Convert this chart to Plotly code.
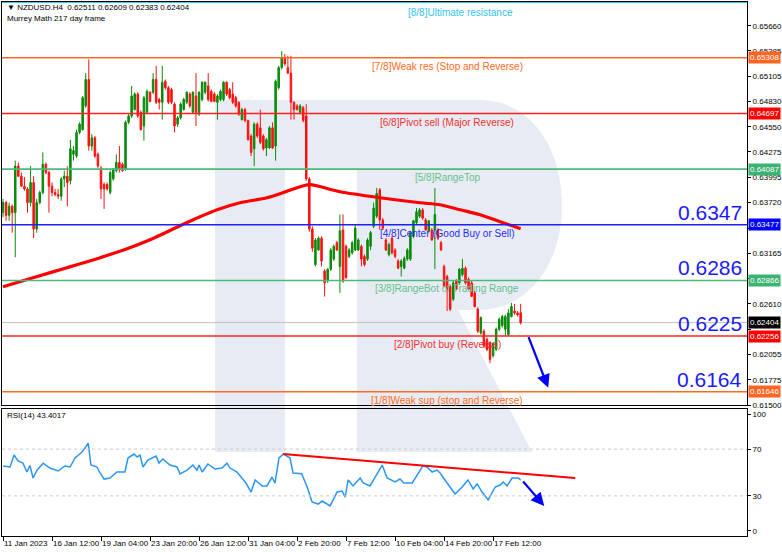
import plotly.graph_objects as go

# ---------------- data ----------------
tick_bars = [0, 16, 32, 48, 64, 80, 96, 112, 128, 144, 160]
tick_labels = ["11 Jan 2023", "16 Jan 12:00", "19 Jan 04:00", "23 Jan 20:00", "26 Jan 12:00",
               "31 Jan 04:00", "2 Feb 20:00", "7 Feb 12:00", "10 Feb 04:00", "14 Feb 20:00", "17 Feb 12:00"]

opens = [0.6361, 0.6372, 0.6358, 0.6368, 0.6361, 0.6412, 0.6401, 0.6390, 0.6387, 0.6372,
         0.6394, 0.6343, 0.6372, 0.6383, 0.6414, 0.6405, 0.6390, 0.6383, 0.6381, 0.6379,
         0.6398, 0.6401, 0.6396, 0.6425, 0.6423, 0.6449, 0.6452, 0.6478, 0.6507, 0.6434,
         0.6443, 0.6425, 0.6410, 0.6392, 0.6392, 0.6383, 0.6398, 0.6407, 0.6416, 0.6414,
         0.6409, 0.6460, 0.6467, 0.6474, 0.6491, 0.6471, 0.6456, 0.6471, 0.6493, 0.6493,
         0.6507, 0.6485, 0.6482, 0.6505, 0.6498, 0.6496, 0.6480, 0.6458, 0.6465, 0.6474,
         0.6482, 0.6491, 0.6471, 0.6489, 0.6469, 0.6485, 0.6493, 0.6500, 0.6494, 0.6491,
         0.6482, 0.6485, 0.6485, 0.6504, 0.6496, 0.6491, 0.6487, 0.6482, 0.6463, 0.6474,
         0.6462, 0.6445, 0.6431, 0.6458, 0.6454, 0.6445, 0.6432, 0.6432, 0.6454, 0.6434,
         0.6498, 0.6520, 0.6531, 0.6520, 0.6514, 0.6482, 0.6478, 0.6471, 0.6476, 0.6467,
         0.6398, 0.6343, 0.6304, 0.6320, 0.6333, 0.6297, 0.6286, 0.6299, 0.6310, 0.6328,
         0.6302, 0.6342, 0.6324, 0.6313, 0.6317, 0.6320, 0.6320, 0.6324, 0.6313, 0.6310,
         0.6324, 0.6346, 0.6357, 0.6386, 0.6353, 0.6331, 0.6315, 0.6333, 0.6320, 0.6308,
         0.6302, 0.6300, 0.6310, 0.6310, 0.6335, 0.6350, 0.6357, 0.6364, 0.6353, 0.6341,
         0.6342, 0.6342, 0.6342, 0.6328, 0.6302, 0.6291, 0.6280, 0.6266, 0.6286, 0.6284,
         0.6293, 0.6300, 0.6288, 0.6284, 0.6273, 0.6255, 0.6229, 0.6231, 0.6222, 0.6218,
         0.6204, 0.6211, 0.6233, 0.6237, 0.6233, 0.6227, 0.6247, 0.6253, 0.6251, 0.62511]
highs = [0.6376, 0.6374, 0.6372, 0.6370, 0.6418, 0.6416, 0.6405, 0.6400, 0.6389, 0.6412,
         0.6401, 0.6376, 0.6385, 0.6427, 0.6416, 0.6407, 0.6394, 0.6387, 0.6387, 0.6400,
         0.6407, 0.6412, 0.6441, 0.6434, 0.6452, 0.6460, 0.6489, 0.6514, 0.6529, 0.6447,
         0.6445, 0.6427, 0.6412, 0.6394, 0.6394, 0.6407, 0.6410, 0.6425, 0.6434, 0.6416,
         0.6462, 0.6469, 0.6500, 0.6493, 0.6493, 0.6473, 0.6489, 0.6496, 0.6494, 0.6514,
         0.6522, 0.6487, 0.6522, 0.6507, 0.6500, 0.6498, 0.6482, 0.6467, 0.6482, 0.6487,
         0.6494, 0.6493, 0.6494, 0.6514, 0.6494, 0.6505, 0.6505, 0.6514, 0.6496, 0.6493,
         0.6491, 0.6496, 0.6505, 0.6505, 0.6498, 0.6504, 0.6489, 0.6483, 0.6476, 0.6476,
         0.6463, 0.6447, 0.6460, 0.6460, 0.6474, 0.6447, 0.6443, 0.6456, 0.6460, 0.6507,
         0.6522, 0.6538, 0.6535, 0.6533, 0.6533, 0.6483, 0.6480, 0.6480, 0.6478, 0.6480,
         0.6400, 0.6346, 0.6333, 0.6335, 0.6335, 0.6299, 0.6300, 0.6322, 0.6326, 0.6330,
         0.6359, 0.6359, 0.6326, 0.6322, 0.6330, 0.6348, 0.6333, 0.6326, 0.6315, 0.6333,
         0.6341, 0.6372, 0.6388, 0.6388, 0.6355, 0.6333, 0.6328, 0.6335, 0.6322, 0.6310,
         0.6310, 0.6313, 0.6322, 0.6341, 0.6353, 0.6366, 0.6366, 0.6366, 0.6355, 0.6353,
         0.6344, 0.6388, 0.6344, 0.6330, 0.6304, 0.6293, 0.6282, 0.6286, 0.6288, 0.6300,
         0.6310, 0.6302, 0.6290, 0.6286, 0.6275, 0.6257, 0.6247, 0.6233, 0.6224, 0.6220,
         0.6218, 0.6235, 0.6246, 0.6249, 0.6249, 0.6255, 0.6262, 0.6261, 0.6253, 0.62609]
lows = [0.6356, 0.6352, 0.6352, 0.6339, 0.6312, 0.6400, 0.6389, 0.6385, 0.6361, 0.6368,
        0.6333, 0.6339, 0.6370, 0.6381, 0.6403, 0.6361, 0.6379, 0.6379, 0.6376, 0.6374,
        0.6389, 0.6368, 0.6392, 0.6418, 0.6421, 0.6447, 0.6451, 0.6476, 0.6429, 0.6429,
        0.6421, 0.6410, 0.6376, 0.6365, 0.6385, 0.6381, 0.6396, 0.6405, 0.6405, 0.6406,
        0.6407, 0.6458, 0.6465, 0.6473, 0.6465, 0.6451, 0.6440, 0.6469, 0.6482, 0.6491,
        0.6480, 0.6474, 0.6463, 0.6496, 0.6480, 0.6480, 0.6449, 0.6455, 0.6463, 0.6473,
        0.6480, 0.6476, 0.6469, 0.6456, 0.6467, 0.6483, 0.6491, 0.6483, 0.6482, 0.6482,
        0.6463, 0.6483, 0.6483, 0.6489, 0.6485, 0.6480, 0.6476, 0.6467, 0.6462, 0.6460,
        0.6440, 0.6423, 0.6412, 0.6443, 0.6436, 0.6429, 0.6423, 0.6431, 0.6431, 0.6418,
        0.6496, 0.6518, 0.6522, 0.6513, 0.6463, 0.6463, 0.6473, 0.6469, 0.6460, 0.6396,
        0.6340, 0.6318, 0.6302, 0.6319, 0.6302, 0.6269, 0.6284, 0.6297, 0.6308, 0.6319,
        0.6273, 0.6284, 0.6288, 0.6311, 0.6315, 0.6319, 0.6319, 0.6302, 0.6302, 0.6308,
        0.6320, 0.6344, 0.6355, 0.6342, 0.6342, 0.6319, 0.6313, 0.6315, 0.6311, 0.6299,
        0.6291, 0.6299, 0.6308, 0.6308, 0.6333, 0.6348, 0.6355, 0.6353, 0.6341, 0.6339,
        0.6330, 0.6299, 0.6331, 0.6319, 0.6279, 0.6253, 0.6253, 0.6264, 0.6277, 0.6282,
        0.6291, 0.6282, 0.6277, 0.6269, 0.6257, 0.6229, 0.6227, 0.6213, 0.6209, 0.6196,
        0.6202, 0.6209, 0.6231, 0.6235, 0.6226, 0.6226, 0.6246, 0.6249, 0.6247, 0.62383]
closes = [0.6372, 0.6358, 0.6368, 0.6361, 0.6412, 0.6401, 0.6390, 0.6387, 0.6372, 0.6394,
          0.6343, 0.6372, 0.6383, 0.6414, 0.6405, 0.6390, 0.6383, 0.6381, 0.6379, 0.6398,
          0.6401, 0.6394, 0.6431, 0.6429, 0.6449, 0.6458, 0.6487, 0.6507, 0.6434, 0.6443,
          0.6423, 0.6412, 0.6387, 0.6387, 0.6387, 0.6405, 0.6409, 0.6416, 0.6409, 0.6407,
          0.6460, 0.6467, 0.6489, 0.6491, 0.6467, 0.6452, 0.6487, 0.6494, 0.6483, 0.6507,
          0.6482, 0.6482, 0.6504, 0.6498, 0.6482, 0.6482, 0.6456, 0.6465, 0.6480, 0.6485,
          0.6493, 0.6478, 0.6493, 0.6471, 0.6493, 0.6504, 0.6504, 0.6485, 0.6483, 0.6483,
          0.6489, 0.6494, 0.6504, 0.6491, 0.6487, 0.6482, 0.6478, 0.6469, 0.6474, 0.6462,
          0.6441, 0.6427, 0.6458, 0.6445, 0.6438, 0.6431, 0.6441, 0.6454, 0.6432, 0.6505,
          0.6520, 0.6531, 0.6524, 0.6514, 0.6482, 0.6474, 0.6474, 0.6478, 0.6462, 0.6398,
          0.6343, 0.6322, 0.6331, 0.6333, 0.6308, 0.6284, 0.6299, 0.6320, 0.6324, 0.6320,
          0.6341, 0.6286, 0.6290, 0.6320, 0.6328, 0.6344, 0.6331, 0.6310, 0.6304, 0.6331,
          0.6339, 0.6366, 0.6382, 0.6353, 0.6344, 0.6320, 0.6326, 0.6317, 0.6313, 0.6300,
          0.6308, 0.6311, 0.6320, 0.6339, 0.6352, 0.6362, 0.6364, 0.6355, 0.6342, 0.6352,
          0.6331, 0.6359, 0.6333, 0.6320, 0.6280, 0.6277, 0.6255, 0.6284, 0.6277, 0.6299,
          0.6300, 0.6284, 0.6277, 0.6269, 0.6258, 0.6231, 0.6246, 0.6215, 0.6211, 0.6200,
          0.6218, 0.6233, 0.6244, 0.6247, 0.6247, 0.6251, 0.6258, 0.6251, 0.6249, 0.62404]

ma_bar = [0, 9.8, 20.9, 31.7, 40.5, 48, 57.8, 64.3, 69.9, 77.4, 86.2, 91.4, 97, 100.2,
          110, 123.1, 136.2, 142.7, 149.2, 155.8, 162.3, 169]
ma_val = [0.62797, 0.62896, 0.63006, 0.63116, 0.63214, 0.63313, 0.63466, 0.63565, 0.63642,
          0.63718, 0.63773, 0.63828, 0.63894, 0.63916, 0.63839, 0.63773, 0.63718, 0.63696,
          0.63642, 0.63587, 0.63510, 0.63433]

rsi_bar = [0, 2.3, 3.6, 4.9, 6.5, 7.8, 8.8, 9.8, 11.1, 13.1, 15.3, 18, 20.2, 21.9, 23.5, 25.8,
           26.8, 27.8, 28.7, 30.7, 31.7, 33, 34.9, 37.2, 39.8, 40.8, 42.8, 43.8, 44.7, 45.7,
           47.3, 50, 50.9, 52.2, 54.5, 56.8, 57.8, 60.1, 62, 63.3, 64, 65, 66.9, 69.2, 71.5,
           73.1, 74.1, 76.4, 78, 79.3, 81, 82.3, 84.6, 86.2, 87.8, 88.8, 90.1, 91.6, 93.7,
           94.7, 97.5, 99.3, 100.9, 102.9, 104.2, 106.8, 109.1, 110.7, 111.7, 112.7, 114.3,
           116.6, 117.6, 119.8, 121.5, 123.8, 125.4, 128, 129.6, 130.9, 133.6, 135.2, 137.1,
           138.4, 140.1, 141.7, 142.7, 145, 147.6, 149.9, 151.8, 153.5, 154.8, 156.4, 158.4,
           160.7, 162.3, 163.3, 164.6, 166.2, 168.3, 169]
rsi_val = [55.6, 54.7, 65, 60, 58, 50.4, 56, 45.3, 52, 58, 53.8, 51.3, 55.6, 54.7, 62.4, 67.5,
           71, 75.2, 56.4, 54.7, 49.6, 44.4, 45.3, 50.4, 50.4, 62.4, 65.8, 63.2, 65, 54.7,
           60.7, 64.1, 58, 61.5, 56.4, 54.7, 48.7, 52, 56.4, 52, 56.4, 50.4, 57.3, 53, 53.8,
           58, 53.8, 50.4, 45.3, 41, 33.3, 43.6, 38.5, 38.5, 46, 41, 62.4, 65.8, 62.4,
           49.6, 49, 37.6, 24.8, 23, 25.6, 21.4, 33.3, 34.2, 29, 43.6, 38.5,
           45.3, 41, 38.5, 46, 56.4, 45.3, 41.9, 44.4, 41, 41, 47.9, 55.6,
           54.7, 50.4, 52, 49.6, 41, 31.6, 37.6, 43.6, 35.9, 40.2, 33.3, 26.5,
           37.6, 39.3, 41.9, 38.5, 45.3, 45.3, 43.4]

levels = [0.65919, 0.65308, 0.64697, 0.64087, 0.63477, 0.62866, 0.62256, 0.61646]
level_names = ["[8/8]Ultimate resistance", "[7/8]Weak res (Stop and Reverse)",
               "[6/8]Pivot sell (Major Reverse)", "[5/8]RangeTop",
               "[4/8]Center (Good Buy or Sell)", "[3/8]RangeBot of Trading Range",
               "[2/8]Pivot buy (Reverse)", "[1/8]Weak sup (stop and Reverse)"]
level_colors = ["#3cc8f0", "#ff6a20", "#ff2020", "#4cb87a", "#2020ff", "#4cb87a", "#ff2020", "#ff6a20"]
text_colors = ["#33c4ee", "#ff6a20", "#f03030", "#66c08a", "#2a2aff", "#66c08a", "#f03030", "#ff6a20"]

big_labels = ["0.6347", "0.6286", "0.6225", "0.6164"]
big_levels = [0.63477, 0.62866, 0.62256, 0.61646]

box_vals = [0.65308, 0.64697, 0.64087, 0.63477, 0.62866, 0.62404, 0.62256, 0.61646]
box_colors = ["#ff6420", "#ff0000", "#3cb371", "#0000ff", "#3cb371", "#000000", "#ff0000", "#ff6420"]

y_ticks = [0.65660, 0.65385, 0.65105, 0.64830, 0.64550, 0.64275, 0.63995, 0.63720, 0.63440,
           0.63165, 0.62885, 0.62610, 0.62330, 0.62055, 0.61775, 0.61500]
hidden_ticks = [0.63440, 0.62885, 0.62330]   # covered by the value boxes in the original

current_price = 0.62404
rsi_trend_bar = [91.4, 186.8]
rsi_trend_val = [65.8, 45.3]

# ---------------- figure ----------------
FONT = "Liberation Sans, Arial, sans-serif"
W, H = 782, 552
L, R, T, B = 2, 35, 2, 16
PW, PH = W - L - R, H - T - B


def px(xp):
    return (xp - L) / PW


def py(yp):
    return (H - B - yp) / PH


bars = list(range(len(closes)))
fig = go.Figure()

fig.add_trace(go.Candlestick(
    x=bars, open=opens, high=highs, low=lows, close=closes,
    increasing=dict(line=dict(color="#0a8a0a", width=1), fillcolor="#0a8a0a"),
    decreasing=dict(line=dict(color="#ff1010", width=1), fillcolor="#ff1010"),
    whiskerwidth=0, xaxis="x", yaxis="y", hoverinfo="skip"))

fig.add_trace(go.Scatter(x=ma_bar, y=ma_val, mode="lines",
                         line=dict(color="#ff0000", width=3.2, shape="spline", smoothing=0.8),
                         xaxis="x", yaxis="y", hoverinfo="skip"))

fig.add_trace(go.Scatter(x=rsi_bar, y=rsi_val, mode="lines", line=dict(color="#2b95f5", width=1.5),
                         xaxis="x2", yaxis="y2", hoverinfo="skip"))
fig.add_trace(go.Scatter(x=rsi_trend_bar, y=rsi_trend_val, mode="lines", line=dict(color="#ff0000", width=2),
                         xaxis="x2", yaxis="y2", hoverinfo="skip"))

shapes = []
annotations = []

# watermark logo (light "R") behind everything
wm = "#e7ecf4"
shapes.append(dict(type="rect", xref="paper", yref="paper", x0=px(215), x1=px(285), y0=py(452), y1=py(100),
                   fillcolor=wm, line=dict(width=0), layer="below"))
path = (f"M {px(285)},{py(100)} L {px(480)},{py(100)} "
        f"C {px(532)},{py(100)} {px(562)},{py(150)} {px(562)},{py(205)} "
        f"C {px(562)},{py(262)} {px(530)},{py(310)} {px(478)},{py(310)} "
        f"L {px(458)},{py(310)} L {px(532)},{py(452)} L {px(357)},{py(452)} "
        f"L {px(357)},{py(170)} L {px(285)},{py(170)} Z")
shapes.append(dict(type="path", xref="paper", yref="paper", path=path, fillcolor=wm,
                   line=dict(width=0), layer="below"))

# level lines
for lv, col in zip(levels, level_colors):
    shapes.append(dict(type="line", xref="paper", x0=0, x1=1, yref="y", y0=lv, y1=lv,
                       line=dict(color=col, width=1.6), layer="above"))
# current price line
shapes.append(dict(type="line", xref="paper", x0=0, x1=1, yref="y", y0=current_price, y1=current_price,
                   line=dict(color="#c0c0c0", width=1), layer="below"))
# RSI dotted levels
for v in (70, 30):
    shapes.append(dict(type="line", xref="paper", x0=0, x1=1, yref="y2", y0=v, y1=v,
                       line=dict(color="#c8c8c8", width=1, dash="dot")))

# level names
for i, (lv, name, tc) in enumerate(zip(levels, level_names, text_colors)):
    xc = 149.2 if i == 0 else 145
    annotations.append(dict(x=xc, y=lv, xref="x", yref="y", text=name, showarrow=False,
                            xanchor="center", yanchor="top", yshift=-1 if i else -3,
                            font=dict(family=FONT, size=10, color=tc)))

# big blue labels
for lab, lv in zip(big_labels, big_levels):
    annotations.append(dict(x=px(744), y=lv, xref="paper", yref="y", text=lab, showarrow=False,
                            xanchor="right", yanchor="bottom", yshift=-1,
                            font=dict(family=FONT, size=21, color="#1a1aff")))

# right-side value boxes
for v, c in zip(box_vals, box_colors):
    annotations.append(dict(x=1.0, y=v, xref="paper", yref="y", text=f"{v:.5f}", showarrow=False,
                            xanchor="left", yanchor="middle", xshift=1, bgcolor=c, borderpad=1,
                            font=dict(family=FONT, size=8, color="white")))

# header texts
annotations.append(dict(x=px(5), y=py(7), xref="paper", yref="paper",
                        text="▼ NZDUSD.H4  0.62511 0.62609 0.62383 0.62404", showarrow=False,
                        xanchor="left", yanchor="middle", font=dict(family=FONT, size=8, color="black")))
annotations.append(dict(x=px(5), y=py(19), xref="paper", yref="paper",
                        text="Murrey Math 217 day frame", showarrow=False,
                        xanchor="left", yanchor="middle", font=dict(family=FONT, size=8, color="black")))
annotations.append(dict(x=px(5), y=py(415), xref="paper", yref="paper",
                        text="RSI(14) 43.4017", showarrow=False,
                        xanchor="left", yanchor="middle", font=dict(family=FONT, size=8, color="black")))

# x tick labels (left aligned at tick)
for tb, tl in zip(tick_bars, tick_labels):
    annotations.append(dict(x=tb, y=py(543), xref="x2", yref="paper", text=tl, showarrow=False,
                            xanchor="left", yanchor="middle", xshift=-1,
                            font=dict(family=FONT, size=8, color="black")))

# arrows
annotations.append(dict(x=178, y=0.6169, ax=171.4, ay=0.6226, xref="x", yref="y", axref="x", ayref="y",
                        showarrow=True, arrowhead=2, arrowsize=1.2, arrowwidth=2.2, arrowcolor="#0000ff", text=""))
annotations.append(dict(x=176.7, y=21.4, ax=169.4, ay=43.6, xref="x2", yref="y2", axref="x2", ayref="y2",
                        showarrow=True, arrowhead=2, arrowsize=1.2, arrowwidth=2.2, arrowcolor="#0000ff", text=""))

xr = [-0.33, 242.9]
axis_common = dict(showgrid=False, zeroline=False, showline=True, mirror=True, linecolor="#000000", linewidth=1)
fig.update_layout(
    width=W, height=H, margin=dict(l=L, r=R, t=T, b=B, autoexpand=False),
    plot_bgcolor="rgba(0,0,0,0)", paper_bgcolor="white", showlegend=False,
    font=dict(family=FONT, size=8, color="black"),
    xaxis=dict(domain=[0, 1], anchor="y", range=xr, showticklabels=False, ticks="",
               rangeslider=dict(visible=False), **axis_common),
    xaxis2=dict(domain=[0, 1], anchor="y2", range=xr, matches="x", tickvals=tick_bars,
                showticklabels=False, ticks="outside", ticklen=4, tickcolor="#000", **axis_common),
    yaxis=dict(domain=[py(405), 1], anchor="x", side="right", range=[0.6150, 0.6592],
               tickvals=y_ticks,
               ticktext=["" if t in hidden_ticks else f"{t:.5f}" for t in y_ticks],
               ticks="outside", ticklen=3,
               tickcolor="#000", tickfont=dict(family=FONT, size=8), **axis_common),
    yaxis2=dict(domain=[0, py(409)], anchor="x2", side="right", range=[-4.3, 104.3],
                tickvals=[0, 30, 70, 100], ticks="outside", ticklen=3, tickcolor="#000",
                tickfont=dict(family=FONT, size=8), **axis_common),
    shapes=shapes, annotations=annotations,
)

fig.write_html("out.html", config={"displayModeBar": False},
               post_script="document.body.style.margin='0';document.body.style.overflow='hidden';")
